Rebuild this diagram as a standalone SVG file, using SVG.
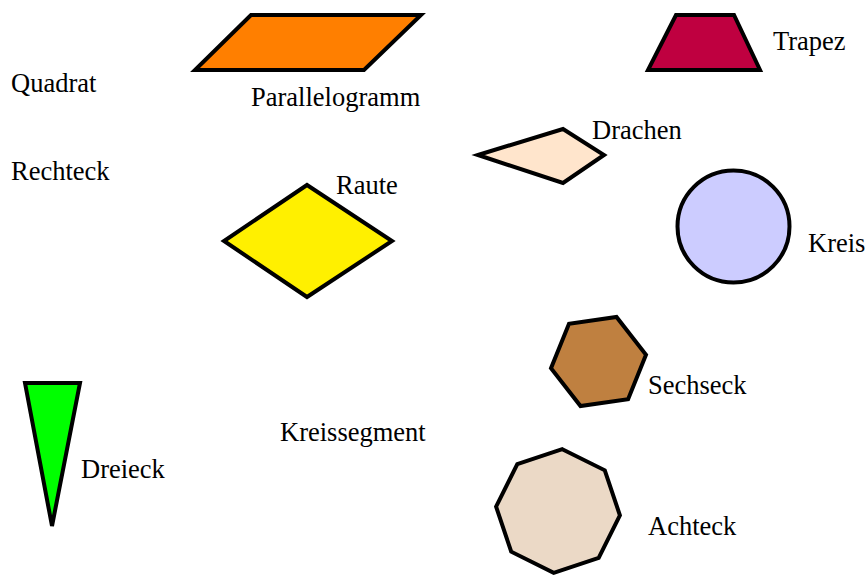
<svg xmlns="http://www.w3.org/2000/svg" width="867" height="576" viewBox="0 0 867 576">
<style>
.s{stroke:#000;stroke-width:4;stroke-linejoin:miter}
text{font-family:"Liberation Serif","Times New Roman",serif;font-size:26.5px;fill:#000}
</style>
<rect width="867" height="576" fill="#fff"/>
<g id="quadrat"><text x="11" y="92">Quadrat</text></g>
<g id="rechteck"><text x="11" y="180">Rechteck</text></g>
<g id="parallelogramm"><polygon class="s" fill="#ff7f00" points="251,15 421,15 364,70 195,70"/><text x="251" y="106">Parallelogramm</text></g>
<g id="trapez"><polygon class="s" fill="#bf0040" points="676,15 734,15 760,70 648,70"/><text x="773" y="50">Trapez</text></g>
<g id="drachen"><polygon class="s" fill="#ffe5cc" points="478,155 563,129 604,155 563,183"/><text x="592" y="139">Drachen</text></g>
<g id="raute"><polygon class="s" fill="#fff000" points="307,185 392,241 307,297 224,241"/><text x="336" y="194">Raute</text></g>
<g id="kreis"><circle class="s" fill="#ccccff" cx="733.5" cy="226.5" r="56"/><text x="808" y="252">Kreis</text></g>
<g id="sechseck"><polygon class="s" fill="#bf8040" points="646,354.8 628.1,399.3 580.5,406 551,368.2 569,323.7 616.5,317"/><text x="648" y="394">Sechseck</text></g>
<g id="dreieck"><polygon class="s" fill="#00ff00" points="25,383 80,383 52,526"/><text x="81" y="478">Dreieck</text></g>
<g id="kreissegment"><text x="280" y="441">Kreissegment</text></g>
<g id="achteck"><polygon class="s" fill="#ebd9c6" points="562.3,449.2 604.8,470.3 619.9,515.3 598.7,557.8 553.7,572.9 511.2,551.7 496.1,506.7 517.3,464.2"/><text x="648" y="535">Achteck</text></g>
<g id="connectors"></g>
</svg>
